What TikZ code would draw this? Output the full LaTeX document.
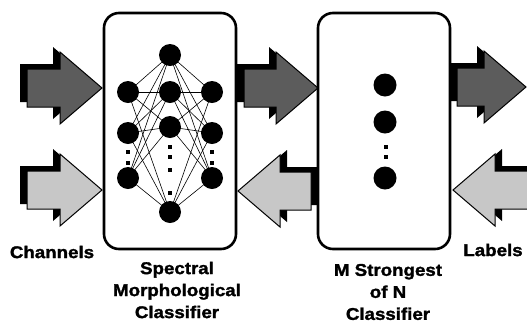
\documentclass[tikz,border=0pt]{standalone}
\usepackage{fontspec}
\setmainfont{Liberation Sans}[FakeStretch=1.1,BoldFeatures={FakeBold=1.6}]
\definecolor{darkfill}{gray}{0.36}
\definecolor{lightfill}{gray}{0.78}
\newcommand\blockarrow[5]{%
  % #1 tip x, #2 centre y, #3 tail x, #4 fill colour, #5 direction (1 right, -1 left)
  \pgfmathsetmacro\hbk{#1-(#5)*42}%
  \fill[black, shift={({-7*(#5)},-5)}] (#3,#2-19) -- (\hbk,#2-19) -- (\hbk,#2-36) -- (#1,#2) -- (\hbk,#2+36) -- (\hbk,#2+19) -- (#3,#2+19) -- cycle;
  \filldraw[fill=#4, draw=black, line width=1pt, line join=miter] (#3,#2-19) -- (\hbk,#2-19) -- (\hbk,#2-36) -- (#1,#2) -- (\hbk,#2+36) -- (\hbk,#2+19) -- (#3,#2+19) -- cycle;
}
\begin{document}
\begin{tikzpicture}[x=1pt,y=-1pt,
  box/.style={draw, line width=2.6pt, rounded corners=15pt, fill=white, inner sep=0pt},
  neuron/.style={circle, fill=black, inner sep=0pt, minimum size=22pt},
  bigdot/.style={circle, fill=black, inner sep=0pt, minimum size=23pt},
  sdot/.style={rectangle, fill=black, inner sep=0pt, minimum size=3.6pt},
  lbl/.style={font=\fontsize{17}{22}\selectfont\bfseries, align=center, inner sep=0pt},
  link/.style={line width=0.6pt}]
\useasboundingbox (0,0) rectangle (527,325);
\clip (0,0) rectangle (527,325);

% block arrows
\blockarrow{102}{88}{27}{darkfill}{1}
\blockarrow{102}{190}{27}{lightfill}{1}
\blockarrow{318}{88}{244}{darkfill}{1}
\blockarrow{238}{191}{311}{lightfill}{-1}
\blockarrow{526}{87}{457}{darkfill}{1}
\blockarrow{453}{190}{545}{lightfill}{-1}

% boxes
\node[box, minimum width=132pt, minimum height=236pt] (b1) at (170,131) {};
\node[box, minimum width=132pt, minimum height=236pt] (b2) at (384,131) {};

% neural network
\coordinate (l1) at (128,92);
\coordinate (l2) at (128,133);
\coordinate (l3) at (128,178);
\coordinate (m1) at (170,55);
\coordinate (m2) at (170,92);
\coordinate (m3) at (170,127);
\coordinate (m4) at (170,212);
\coordinate (r1) at (212,92);
\coordinate (r2) at (212,133);
\coordinate (r3) at (212,178);
\foreach \a in {l1,l2,l3,r1,r2,r3}{
  \foreach \b in {m1,m2,m3,m4}{
    \draw[link] (\a) -- (\b);
  }
}
\foreach \c in {l1,l2,l3,m1,m2,m3,m4,r1,r2,r3}{
  \node[neuron] (n\c) at (\c) {};
}
\node[sdot] (dl1) at (128,152) {};
\node[sdot] (dl2) at (128,163) {};
\node[sdot] (dr1) at (212,152) {};
\node[sdot] (dr2) at (212,163) {};
\node[sdot] (dm1) at (170,147) {};
\node[sdot] (dm2) at (170,157) {};
\node[sdot] (dm3) at (170,170) {};
\node[sdot] (dm4) at (170,193) {};

% M strongest of N
\node[bigdot] (s1) at (385,85) {};
\node[bigdot] (s2) at (385,122) {};
\node[bigdot] (s3) at (385,178) {};
\node[sdot] (ds1) at (386,147) {};
\node[sdot] (ds2) at (386,157) {};

% labels
\node[lbl] (ch) at (52,252) {Channels};
\node[lbl] (sm) at (177,290) {Spectral\\Morphological\\Classifier};
\node[lbl] (mn) at (388,292) {M Strongest\\of N\\Classifier};
\node[lbl] (lb) at (493,250) {Labels};
\end{tikzpicture}
\end{document}
